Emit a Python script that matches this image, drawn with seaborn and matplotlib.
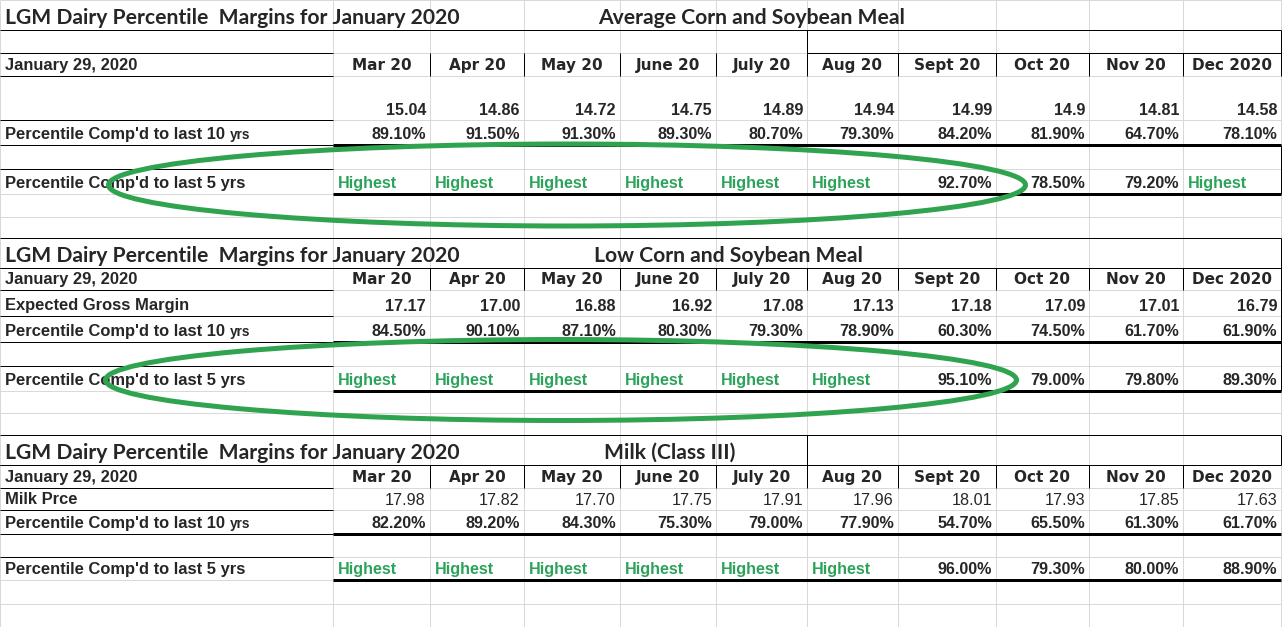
import matplotlib
matplotlib.use("Agg")
import matplotlib.pyplot as plt
from matplotlib.patches import Ellipse
import seaborn as sns

# ---- data -------------------------------------------------------------
months = ["Mar 20", "Apr 20", "May 20", "June 20", "July 20", "Aug 20",
          "Sept 20", "Oct 20", "Nov 20", "Dec 2020"]
report_date = "January 29, 2020"
main_title = "LGM Dairy Percentile  Margins for January 2020"

avg_title = "Average Corn and Soybean Meal"
avg_margin = ["15.04", "14.86", "14.72", "14.75", "14.89", "14.94", "14.99", "14.9", "14.81", "14.58"]
avg_pct10 = ["89.10%", "91.50%", "91.30%", "89.30%", "80.70%", "79.30%", "84.20%", "81.90%", "64.70%", "78.10%"]
avg_pct5 = ["Highest", "Highest", "Highest", "Highest", "Highest", "Highest", "92.70%", "78.50%", "79.20%", "Highest"]

low_title = "Low Corn and Soybean Meal"
low_margin = ["17.17", "17.00", "16.88", "16.92", "17.08", "17.13", "17.18", "17.09", "17.01", "16.79"]
low_pct10 = ["84.50%", "90.10%", "87.10%", "80.30%", "79.30%", "78.90%", "60.30%", "74.50%", "61.70%", "61.90%"]
low_pct5 = ["Highest", "Highest", "Highest", "Highest", "Highest", "Highest", "95.10%", "79.00%", "79.80%", "89.30%"]

milk_title = "Milk (Class III)"
milk_price = ["17.98", "17.82", "17.70", "17.75", "17.91", "17.96", "18.01", "17.93", "17.85", "17.63"]
milk_pct10 = ["82.20%", "89.20%", "84.30%", "75.30%", "79.00%", "77.90%", "54.70%", "65.50%", "61.30%", "61.70%"]
milk_pct5 = ["Highest", "Highest", "Highest", "Highest", "Highest", "Highest", "96.00%", "79.30%", "80.00%", "88.90%"]

# ---- sheet geometry (pixels) --------------------------------------------
W, H = 1282, 627
col_edges = [0, 333, 430, 524, 620, 716, 807, 898, 996, 1089, 1183, 1281]
row_edges = [0, 30, 53, 76, 120, 145, 169, 194, 217, 238, 268, 290, 316, 342,
             366, 391, 413, 435, 465, 488, 510, 534, 557, 580, 604, 627]

GREEN_TXT = "#2ca35a"
GREEN_RING = "#30a34f"
GRID = "#d9d9d9"
LABEL_FONT = ["Liberation Sans", "DejaVu Sans"]
HEAD_FONT = ["DejaVu Sans"]
TITLE_FONT = ["Lato", "DejaVu Sans"]
LBL = 11.9    # label size
NUM = 11.6    # number size
TTL = 15.2    # title size

sns.set_theme(style="white")
plt.rcParams["font.family"] = LABEL_FONT

fig = plt.figure(figsize=(W / 100, H / 100), dpi=100)
ax = fig.add_axes([0, 0, 1, 1])
ax.set_xlim(0, W)
ax.set_ylim(H, 0)
ax.axis("off")

PX = 0.72  # one pixel in points
thin = 1.0 * PX
thick = 3.0 * PX

# grey spreadsheet grid
for x in col_edges:
    ax.vlines(x, 0, H, color=GRID, lw=thin, zorder=1)
for y in row_edges:
    ax.hlines(y, 0, W, color=GRID, lw=thin, zorder=1)


def black_h(y, x0, x1, lw=thin):
    ax.hlines(y, x0, x1, color="black", lw=lw, zorder=3)


def black_v(x, y0, y1, lw=thin):
    ax.vlines(x, y0, y1, color="black", lw=lw, zorder=3)


def draw_table(title, subtitle, rows, value_label, values, value_bold, pct10, pct5):
    t_bot, h_top, h_bot, v_bot, p10_bot, gap_bot, p5_bot = rows
    left, right = col_edges[0], col_edges[-1]
    a_right = col_edges[1]

    ax.text(5, t_bot - 6, title, family=TITLE_FONT, fontsize=TTL, fontweight="bold",
            va="baseline", zorder=4)
    ax.text(subtitle[1], t_bot - 6, subtitle[0], family=TITLE_FONT, fontsize=TTL,
            fontweight="bold", va="baseline", zorder=4)

    # header row
    ax.text(5, h_bot - 6, report_date, fontsize=LBL, fontweight="bold", va="baseline", zorder=4)
    for i, m in enumerate(months):
        cx = (col_edges[i + 1] + col_edges[i + 2]) / 2
        ax.text(cx, h_bot - 6, m, family=HEAD_FONT, fontsize=11, fontweight="bold",
                ha="center", va="baseline", zorder=4)
    for x in col_edges[2:-1]:
        black_v(x, h_top, h_bot)
    black_h(h_top, left, a_right)
    black_h(h_bot, left, a_right)

    # value row
    if value_label:
        ax.text(5, v_bot - 6, value_label, fontsize=LBL, fontweight="bold", va="baseline", zorder=4)
    for i, v in enumerate(values):
        ax.text(col_edges[i + 2] - 4, v_bot - 5, v, fontsize=NUM,
                fontweight="bold" if value_bold else "normal",
                ha="right", va="baseline", zorder=4)
    black_h(v_bot, left, a_right)

    # percentile vs 10 years
    t = ax.text(5, p10_bot - 6, "Percentile Comp'd to last 10", fontsize=LBL,
                fontweight="bold", va="baseline", zorder=4)
    ax.annotate("yrs", xy=(1, p10_bot - 6), xycoords=(t, "data"), xytext=(3.2, 0),
                textcoords="offset points", fontsize=9.8, fontweight="bold",
                va="baseline", ha="left", zorder=4)
    for i, v in enumerate(pct10):
        ax.text(col_edges[i + 2] - 4, p10_bot - 6, v, fontsize=NUM, fontweight="bold",
                ha="right", va="baseline", zorder=4)
    black_h(p10_bot, left, a_right)
    black_h(p10_bot, a_right, right, lw=thick)
    black_h(gap_bot, left, a_right)

    # percentile vs 5 years
    ax.text(5, p5_bot - 6, "Percentile Comp'd to last 5 yrs", fontsize=LBL,
            fontweight="bold", va="baseline", zorder=4)
    for i, v in enumerate(pct5):
        if v == "Highest":
            ax.text(col_edges[i + 1] + 5, p5_bot - 6, v, fontsize=NUM, fontweight="bold",
                    color=GREEN_TXT, ha="left", va="baseline", zorder=4)
        else:
            ax.text(col_edges[i + 2] - 4, p5_bot - 6, v, fontsize=NUM, fontweight="bold",
                    ha="right", va="baseline", zorder=4)
    black_h(p5_bot, a_right, right, lw=thick)


# top table: Average corn and SBM
draw_table(main_title, (avg_title, 598), (30, 53, 76, 120, 145, 169, 194),
           "", avg_margin, True, avg_pct10, avg_pct5)
black_h(30, 0, 1281)
black_h(53, 807, 1281)
black_v(807, 30, 53)
black_v(1281, 30, 76)
black_v(1281, 145, 194)

# middle table: Low corn and SBM
draw_table(main_title, (low_title, 594), (268, 268, 290, 316, 342, 366, 391),
           "Expected Gross Margin", low_margin, True, low_pct10, low_pct5)
black_h(238, 0, 1281)
black_h(268, 0, 1281)
black_v(1281, 238, 391)

# bottom table: Class III milk
draw_table(main_title, (milk_title, 604), (465, 465, 488, 510, 534, 557, 580),
           "Milk Prce", milk_price, False, milk_pct10, milk_pct5)
black_h(435, 0, 1281)
black_h(465, 0, 1281)
black_v(807, 435, 465)
black_v(1281, 435, 465)

# hand-drawn green rings
ax.add_patch(Ellipse((567, 185), 917, 82, fill=False, ec=GREEN_RING, lw=3.6, zorder=6))
ax.add_patch(Ellipse((561, 380), 911, 81, fill=False, ec=GREEN_RING, lw=3.6, zorder=6))

fig.savefig("out.png", dpi=100, facecolor="white")
